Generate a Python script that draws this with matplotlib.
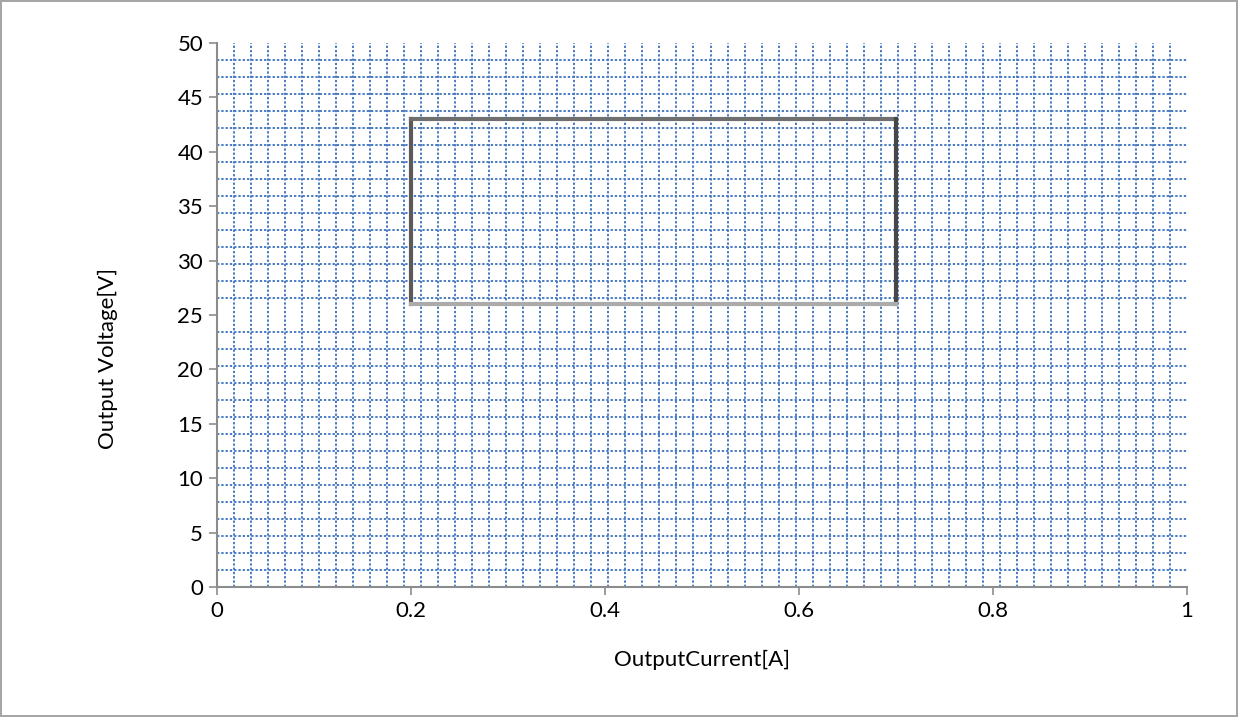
import numpy as np
import matplotlib
matplotlib.use('Agg')
import matplotlib.pyplot as plt
from matplotlib.ticker import FixedLocator

# operating window (corner points of the box)
current_a = [0.2, 0.2, 0.7, 0.7, 0.2]
voltage_v = [26, 43, 43, 26, 26]
edge_colors = ['#5a5a5a', '#6f6f6f', '#474747', '#ababab']

x_ticks = [0, 0.2, 0.4, 0.6, 0.8, 1]
x_labels = ['0', '0.2', '0.4', '0.6', '0.8', '1']
y_ticks = list(range(0, 51, 5))

plt.rcParams['font.family'] = ['Lato', 'DejaVu Sans']

fig = plt.figure(figsize=(12.38, 7.17), dpi=100)
fig.patch.set_edgecolor('#a6a6a6')
fig.patch.set_linewidth(1.5)
ax = fig.add_axes([0.1753, 0.1813, 0.7835, 0.7587])

ax.set_xlim(0, 1)
ax.set_ylim(0, 50)

# dotted grid pattern of the plot area
ax.xaxis.set_minor_locator(FixedLocator(np.linspace(0, 1, 58)))
ax.yaxis.set_minor_locator(FixedLocator(np.arange(0, 50, 50 / 32)))
ax.grid(which='minor', color='#4a7cc4', linestyle=(0, (1.2, 1.0)), linewidth=1.4)
ax.tick_params(which='minor', length=0)

for i in range(4):
    ax.plot(current_a[i:i + 2], voltage_v[i:i + 2], color=edge_colors[i],
            linewidth=3, solid_capstyle='projecting', zorder=3)

ax.set_xticks(x_ticks)
ax.set_xticklabels(x_labels)
ax.set_yticks(y_ticks)

for s in ['top', 'right']:
    ax.spines[s].set_visible(False)
for s in ['left', 'bottom']:
    ax.spines[s].set_color('#8c8c8c')
    ax.spines[s].set_linewidth(1.5)
    ax.spines[s].set_zorder(4)

ax.tick_params(which='major', length=6, width=1.2, color='#8c8c8c',
               labelsize=16, pad=4)

fig.text(0.0872, 0.5, 'Output Voltage[V]', rotation=90, ha='center',
         va='center', fontsize=16)
fig.text(0.567, 0.079, 'OutputCurrent[A]', ha='center', va='center',
         fontsize=16)

fig.savefig('out.png', dpi=100)
